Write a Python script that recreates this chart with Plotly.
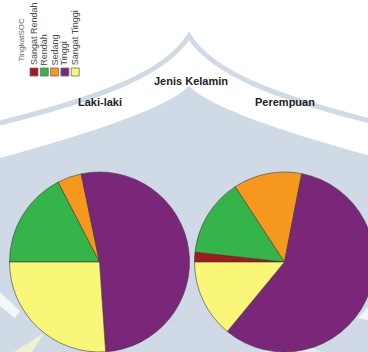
import plotly.graph_objects as go

# ---- data ----
categories = ["Sangat Rendah", "Rendah", "Sedang", "Tinggi", "Sangat Tinggi"]
laki_laki = [0, 8, 2, 24, 12]
perempuan = [1, 8, 7, 33, 8]
groups = ["Laki-laki", "Perempuan"]
colors = ["#a3191e", "#35b44a", "#f7981e", "#7b2779", "#faf677"]
legend_title = "TingkatSOC"
facet_title = "Jenis Kelamin"

# ---- geometry helpers (figure pixels -> paper fractions) ----
W, H = 376, 352
def fx(x):
    return x / W
def fy(y):
    return 1 - y / H
def pt(x, y):
    return f"{fx(x):.5f},{fy(y):.5f}"

BG = "#cfdae6"
FONT = "Liberation Sans, Arial, sans-serif"

fig = go.Figure()

series = [laki_laki, perempuan]
domains = [(9.5, 189.5), (194.5, 374.5)]
for name, vals, (x0, x1) in zip(groups, series, domains):
    fig.add_trace(go.Pie(
        labels=categories, values=vals, name=name,
        sort=False, direction="clockwise", rotation=270,
        marker=dict(colors=colors, line=dict(color="#3a3a3a", width=0.6)),
        textinfo="none", hoverinfo="label+value", showlegend=False,
        domain=dict(x=[fx(x0), fx(x1)], y=[0, 1 - 172 / H]),
    ))

shapes = []
# watermark: lower filled arch
shapes.append(dict(
    type="path", xref="paper", yref="paper", layer="below",
    path=("M " + pt(0, 158) + " C " + pt(110, 128) + " " + pt(170, 105) + " " + pt(189, 86)
          + " C " + pt(208, 105) + " " + pt(268, 128) + " " + pt(378, 158)
          + " L " + pt(378, 352) + " L " + pt(0, 352) + " Z"),
    fillcolor=BG, line=dict(width=0),
))
# watermark: outer arch band
shapes.append(dict(
    type="path", xref="paper", yref="paper", layer="below",
    path=("M " + pt(0, 123) + " C " + pt(100, 98) + " " + pt(165, 74) + " " + pt(189, 36)
          + " C " + pt(213, 74) + " " + pt(278, 98) + " " + pt(378, 123)),
    fillcolor="rgba(0,0,0,0)", line=dict(color=BG, width=5),
))
# faint light streaks at the bottom
shapes.append(dict(
    type="path", xref="paper", yref="paper", layer="below",
    path="M " + pt(0, 292) + " L " + pt(20, 311) + " L " + pt(15, 318) + " L " + pt(0, 306) + " Z",
    fillcolor="#f4f7fa", line=dict(width=0),
))
shapes.append(dict(
    type="path", xref="paper", yref="paper", layer="below",
    path="M " + pt(14, 352) + " L " + pt(44, 333) + " L " + pt(32, 352) + " Z",
    fillcolor="#eef1d6", line=dict(width=0),
))
shapes.append(dict(
    type="path", xref="paper", yref="paper", layer="below",
    path="M " + pt(358, 318) + " L " + pt(376, 298) + " L " + pt(376, 322) + " Z",
    fillcolor="#f4f7fa", line=dict(width=0),
))
shapes.append(dict(
    type="path", xref="paper", yref="paper", layer="below",
    path="M " + pt(258, 352) + " L " + pt(300, 343) + " L " + pt(322, 352) + " Z",
    fillcolor="#dcefe2", line=dict(width=0),
))

annotations = []
# legend keys and rotated labels
for i, (lab, col) in enumerate(zip(categories, colors)):
    kx0 = 30 + 10.3 * i
    shapes.append(dict(
        type="rect", xref="paper", yref="paper",
        x0=fx(kx0), x1=fx(kx0 + 8), y0=fy(68), y1=fy(76),
        fillcolor=col, line=dict(color="#6e6e6e", width=0.8),
    ))
    annotations.append(dict(
        text=lab, xref="paper", yref="paper", x=fx(kx0 + 4), y=fy(65.5),
        xanchor="center", yanchor="bottom", textangle=-90, showarrow=False,
        borderpad=0, borderwidth=0,
        font=dict(family=FONT, size=9, color="#4a4a4a"),
    ))
annotations.append(dict(
    text=legend_title, xref="paper", yref="paper", x=fx(21), y=fy(62),
    xanchor="center", yanchor="bottom", textangle=-90, showarrow=False,
    borderpad=0, borderwidth=0,
    font=dict(family=FONT, size=8, color="#666666"),
))
# facet titles
annotations.append(dict(
    text="<b>" + facet_title + "</b>", xref="paper", yref="paper", x=fx(191), y=fy(81),
    xanchor="center", yanchor="middle", showarrow=False,
    font=dict(family=FONT, size=11, color="#222222"),
))
for name, cx in zip(groups, [100, 285]):
    annotations.append(dict(
        text="<b>" + name + "</b>", xref="paper", yref="paper", x=fx(cx), y=fy(102),
        xanchor="center", yanchor="middle", showarrow=False,
        font=dict(family=FONT, size=11, color="#222222"),
    ))

fig.update_layout(
    width=W, height=H, autosize=False,
    margin=dict(l=0, r=0, t=0, b=0),
    paper_bgcolor="#ffffff", plot_bgcolor="#ffffff",
    shapes=shapes, annotations=annotations,
    showlegend=False,
)

fig.write_html(
    "out.html",
    post_script="document.documentElement.style.overflow='hidden';document.body.style.overflow='hidden';document.body.style.margin='0';",
)
